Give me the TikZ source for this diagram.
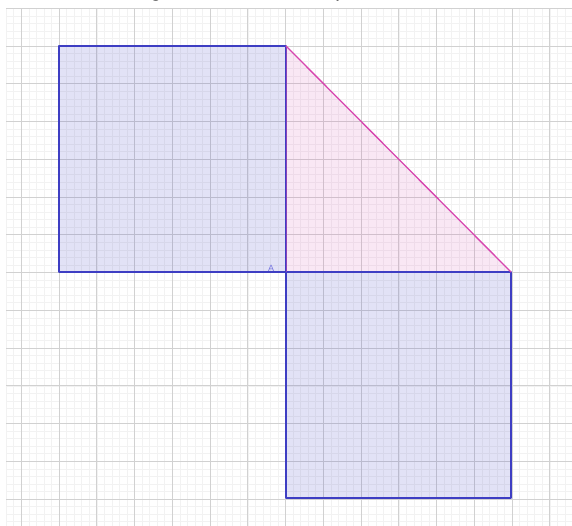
\documentclass[tikz,border=0pt]{standalone}
\usepackage{fontspec}
\setmainfont{Liberation Sans}
\begin{document}
\begin{tikzpicture}[x=1pt,y=-1pt,
  minorline/.style={draw=black!5,line width=0.5pt},
  majorline/.style={draw=black!18,line width=0.7pt},
  sqedge/.style={draw=sqblue,line width=1.4pt,fill=sqblue,fill opacity=0.15,line join=round},
  trifill/.style={fill=trimag,fill opacity=0.13},
  triedge/.style={draw=trimag,line width=1.3pt,line cap=round}]
\definecolor{sqblue}{RGB}{62,62,195}
\definecolor{trimag}{RGB}{215,70,175}
\definecolor{lblblue}{RGB}{120,120,225}
\useasboundingbox (0,0) rectangle (572,526);
\fill[white] (0,0) rectangle (572,526);
% grid
\foreach \i in {0,...,75} {
  \draw[minorline] ({6.15+7.55*\i},8.25) -- ({6.15+7.55*\i},526);
}
\foreach \j in {0,...,69} {
  \draw[minorline] (6.15,{8.25+7.55*\j}) -- (572,{8.25+7.55*\j});
}
\foreach \i in {0,...,14} {
  \draw[majorline] ({21.25+37.75*\i},8.25) -- ({21.25+37.75*\i},526);
}
\foreach \j in {0,...,13} {
  \draw[majorline] (6.15,{8.25+37.75*\j}) -- (572,{8.25+37.75*\j});
}
% points
\coordinate (P1) at (59,46);
\coordinate (P2) at (286,46);
\coordinate (A) at (286,272);
\coordinate (P4) at (59,272);
\coordinate (Q1) at (511,272);
\coordinate (Q2) at (511,498);
\coordinate (Q3) at (286,498);
% triangle fill
\fill[trifill] (P2) -- (A) -- (Q1) -- cycle;
% squares
\draw[sqedge] (P1) -- (P2) -- (A) -- (P4) -- cycle;
\draw[sqedge] (A) -- (Q1) -- (Q2) -- (Q3) -- cycle;
% triangle edges
\draw[triedge] (P2) -- (Q1);
\draw[draw=trimag,line width=0.5pt,opacity=0.5] (P2) -- (A);
% label
\node[text=lblblue,font=\fontsize{9}{10}\selectfont,anchor=base] (lblA) at (271,271.5) {A};
% cropped title fragments
\node[font=\fontsize{22}{24}\selectfont,anchor=base,inner sep=0pt] (tg) at (156,-3) {g};
\node[font=\fontsize{22}{24}\selectfont,anchor=base,inner sep=0pt] (tp) at (340,-3) {)};
\end{tikzpicture}
\end{document}
